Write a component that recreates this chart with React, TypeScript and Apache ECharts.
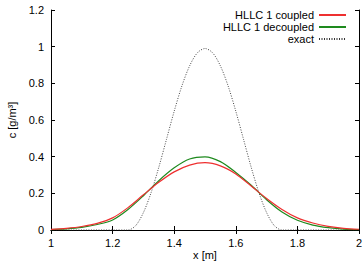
import React, { useEffect, useRef } from "react";
import * as echarts from "echarts";

// Grid positions along x [m]
const xCoarse = [1.0, 1.05, 1.1, 1.15, 1.2, 1.25, 1.3, 1.35, 1.4, 1.45, 1.5, 1.55, 1.6, 1.65, 1.7, 1.75, 1.8, 1.85, 1.9, 1.95, 2.0];

// Concentration c [g/m^3] from the two schemes
const coupled = [0.003, 0.009, 0.019, 0.036, 0.066, 0.122, 0.192, 0.26, 0.317, 0.354, 0.367, 0.35, 0.306, 0.24, 0.172, 0.112, 0.066, 0.038, 0.02, 0.009, 0.004];
const decoupled = [0.002, 0.006, 0.014, 0.03, 0.055, 0.112, 0.187, 0.269, 0.339, 0.387, 0.399, 0.373, 0.314, 0.244, 0.165, 0.098, 0.053, 0.027, 0.013, 0.005, 0.002];

// Exact solution: a single pulse between 1.25 and 1.75
const xExact = [1.0, 1.25, 1.275, 1.3, 1.325, 1.35, 1.375, 1.4, 1.425, 1.45, 1.475, 1.5, 1.525, 1.55, 1.575, 1.6, 1.625, 1.65, 1.675, 1.7, 1.725, 1.75, 2.0];
const exact = [0, 0, 0.024, 0.095, 0.204, 0.342, 0.495, 0.648, 0.786, 0.895, 0.966, 0.99, 0.966, 0.895, 0.786, 0.648, 0.495, 0.342, 0.204, 0.095, 0.024, 0, 0];

const seriesNames = ["HLLC 1 coupled", "HLLC 1 decoupled", "exact"];
const xTicks = { min: 1, max: 2, interval: 0.2 };
const yTicks = { min: 0, max: 1.2, interval: 0.2 };

const FONT = "'Liberation Sans', Arial, sans-serif";

const pairs = (xs: number[], ys: number[]) => xs.map((x, i) => [x, ys[i]]);
const fmt = (v: number) => String(Math.round(v * 10) / 10);

export default function App() {
  const ref = useRef<HTMLDivElement>(null);

  useEffect(() => {
    if (!ref.current) return;
    const chart = echarts.init(ref.current, null, { renderer: "svg" });
    const axisLine = { show: true, lineStyle: { color: "#000", width: 1 } };
    const tick = { show: true, inside: true, length: 4, lineStyle: { color: "#000" } };
    chart.setOption({
      animation: false,
      backgroundColor: "#fff",
      grid: { left: 51, right: 5, top: 10, bottom: 32, containLabel: false, outerBoundsMode: "none" },
      legend: {
        data: seriesNames,
        orient: "vertical",
        right: 17,
        top: 9,
        align: "right",
        itemWidth: 27,
        itemHeight: 8,
        itemGap: 0,
        padding: 0,
        itemStyle: { opacity: 0 },
        textStyle: { fontFamily: FONT, fontSize: 11, lineHeight: 12, color: "#000" },
      },
      xAxis: [
        {
          type: "value",
          min: xTicks.min,
          max: xTicks.max,
          interval: xTicks.interval,
          position: "bottom",
          name: "x [m]",
          nameLocation: "middle",
          nameGap: 19,
          nameMoveOverlap: false,
          nameTextStyle: { fontFamily: FONT, fontSize: 11, color: "#000" },
          axisLine,
          axisTick: tick,
          splitLine: { show: false },
          axisLabel: { fontFamily: FONT, fontSize: 11, color: "#000", margin: 7, formatter: fmt },
        },
        {
          type: "value",
          min: xTicks.min,
          max: xTicks.max,
          interval: xTicks.interval,
          position: "top",
          axisLine,
          axisTick: tick,
          splitLine: { show: false },
          axisLabel: { show: false },
        },
      ],
      yAxis: [
        {
          type: "value",
          min: yTicks.min,
          max: yTicks.max,
          interval: yTicks.interval,
          position: "left",
          name: "c [g/m³]",
          nameLocation: "middle",
          nameGap: 34,
          nameMoveOverlap: false,
          nameRotate: 90,
          nameTextStyle: { fontFamily: FONT, fontSize: 11, color: "#000" },
          axisLine,
          axisTick: tick,
          splitLine: { show: false },
          axisLabel: { fontFamily: FONT, fontSize: 11, color: "#000", margin: 7, formatter: fmt },
        },
        {
          type: "value",
          min: yTicks.min,
          max: yTicks.max,
          interval: yTicks.interval,
          position: "right",
          axisLine,
          axisTick: tick,
          splitLine: { show: false },
          axisLabel: { show: false },
        },
      ],
      series: [
        {
          name: seriesNames[0],
          type: "line",
          data: pairs(xCoarse, coupled),
          smooth: 0.3,
          symbol: "none",
          lineStyle: { color: "#ee3030", width: 1.2 },
          itemStyle: { color: "#ee3030" },
          z: 3,
        },
        {
          name: seriesNames[1],
          type: "line",
          data: pairs(xCoarse, decoupled),
          smooth: 0.3,
          symbol: "none",
          lineStyle: { color: "#1e8a1e", width: 1.2 },
          itemStyle: { color: "#1e8a1e" },
          z: 2,
        },
        {
          name: seriesNames[2],
          type: "line",
          data: pairs(xExact, exact),
          smooth: 0.3,
          symbol: "none",
          lineStyle: { color: "#333", width: 0.9, type: [1, 1.5] },
          itemStyle: { color: "#333" },
          z: 1,
        },
      ],
    });
    return () => chart.dispose();
  }, []);

  return (
    <div
      ref={ref}
      style={{ position: "fixed", left: 0, top: 0, width: 364, height: 262, background: "#fff" }}
    />
  );
}
